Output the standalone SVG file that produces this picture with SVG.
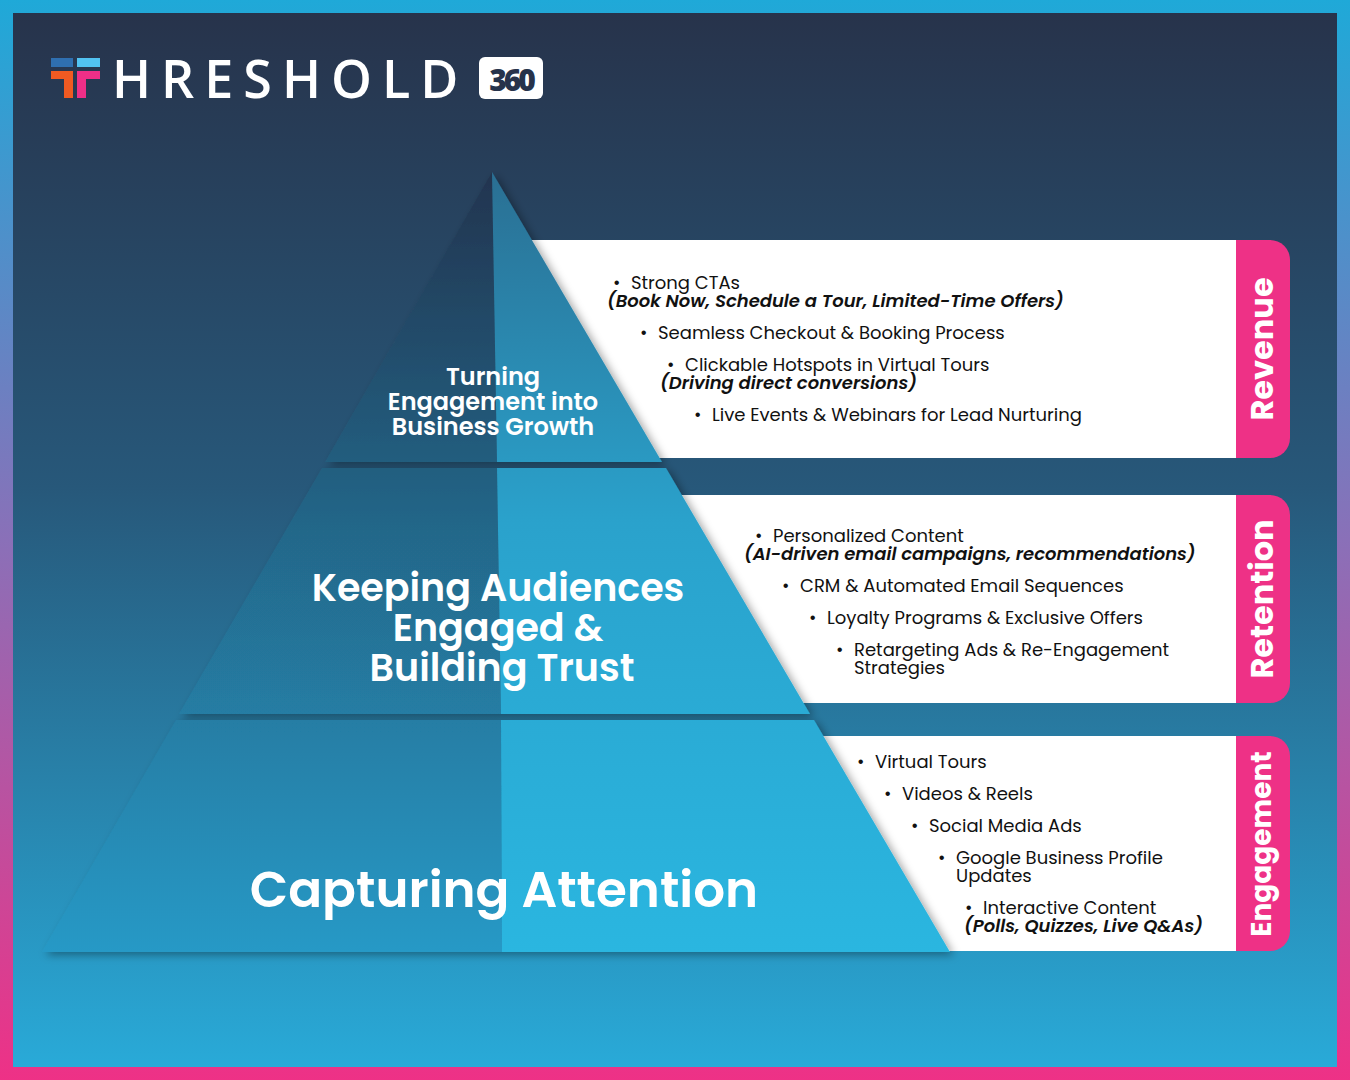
<svg xmlns="http://www.w3.org/2000/svg" width="1350" height="1080" viewBox="0 0 1350 1080">
<defs>
<linearGradient id="border" x1="0" y1="0" x2="0" y2="1"><stop offset="0" stop-color="#1fa9d8"/><stop offset="0.5" stop-color="#8a70b8"/><stop offset="1" stop-color="#ee3186"/></linearGradient>
<linearGradient id="bg" x1="0" y1="0" x2="0" y2="1"><stop offset="0" stop-color="#27334b"/><stop offset="0.45" stop-color="#27587a"/><stop offset="1" stop-color="#29aad8"/></linearGradient>
<linearGradient id="pr" gradientUnits="userSpaceOnUse" x1="0" y1="172" x2="0" y2="952"><stop offset="0" stop-color="#2a6f93"/><stop offset="0.45" stop-color="#2aa2cc"/><stop offset="1" stop-color="#29b6e0"/></linearGradient>
<linearGradient id="pl" gradientUnits="userSpaceOnUse" x1="0" y1="172" x2="0" y2="952"><stop offset="0" stop-color="#24344f"/><stop offset="0.45" stop-color="#246688"/><stop offset="1" stop-color="#2699c6"/></linearGradient>
<filter id="sh" x="-10%" y="-10%" width="130%" height="130%"><feDropShadow dx="4" dy="3" stdDeviation="4" flood-color="#000" flood-opacity="0.35"/></filter>
<style>
.b{font-family:Poppins,"Open Sans","Liberation Sans",sans-serif;font-size:18px;fill:#111}
.i{font-style:italic;font-weight:600}
.t{font-family:Poppins,"Open Sans","Liberation Sans",sans-serif;font-weight:600;fill:#fff;text-anchor:middle}
.tab{fill:#ee3186}
.lab{font-family:Poppins,"Open Sans","Liberation Sans",sans-serif;font-weight:700;font-size:32px;fill:#fff;text-anchor:middle}
</style>
</defs>
<rect width="1350" height="1080" fill="url(#border)"/>
<rect x="13" y="13" width="1324" height="1054" fill="url(#bg)"/>
<g id="logo">
<rect x="51" y="58" width="22" height="9" fill="#2f6fb0"/><rect x="77" y="58" width="23" height="9" fill="#52c3f2"/>
<path d="M51 71h22v27h-9v-19h-13z" fill="#f05a22"/><path d="M77 71h23v8h-14v19h-9z" fill="#ee2f87"/>
<text x="112" y="98" font-family="'Open Sans','Liberation Sans',sans-serif" font-size="52" font-weight="600" fill="#fff" letter-spacing="10">HRESHOLD</text>
<rect x="479" y="57" width="64" height="42" rx="6" fill="#fff"/>
<text x="511" y="91" font-family="'Open Sans','Liberation Sans',sans-serif" font-size="30" font-weight="800" fill="#27334b" text-anchor="middle" letter-spacing="-3">360</text>
</g>
<g id="panels">
<rect x="520" y="240" width="730" height="218" fill="#fff"/>
<rect x="660" y="495" width="590" height="208" fill="#fff"/>
<rect x="800" y="736" width="450" height="215" fill="#fff"/>
<path class="tab" d="M1236 240h34a20 20 0 0 1 20 20v178a20 20 0 0 1-20 20h-34z"/>
<path class="tab" d="M1236 495h34a20 20 0 0 1 20 20v168a20 20 0 0 1-20 20h-34z"/>
<path class="tab" d="M1236 736h34a20 20 0 0 1 20 20v175a20 20 0 0 1-20 20h-34z"/>
<text class="lab" transform="translate(1273 349) rotate(-90)">Revenue</text>
<text class="lab" transform="translate(1273 599) rotate(-90)">Retention</text>
<text class="lab" font-size="28" style="font-size:28px" transform="translate(1271 844) rotate(-90)">Engagement</text>
</g>
<g id="pyramid" filter="url(#sh)">
<g id="tier-top"><path d="M492 172L325 462H497z" fill="url(#pl)"/><path d="M492 172L497 462H662z" fill="url(#pr)"/></g>
<g id="tier-mid"><path d="M322 468L179 714H501L497 468z" fill="url(#pl)"/><path d="M497 468L501 714H810L666 468z" fill="url(#pr)"/></g>
<g id="tier-bot"><path d="M176 720L42 952H502L501 720z" fill="url(#pl)"/><path d="M501 720L502 952H950L814 720z" fill="url(#pr)"/></g>
</g>
<g id="tier-labels">
<text class="t" font-size="24"><tspan x="493" y="385">Turning</tspan><tspan x="493" y="410">Engagement into</tspan><tspan x="493" y="435">Business Growth</tspan></text>
<text class="t" font-size="38"><tspan x="498" y="601">Keeping Audiences</tspan><tspan x="498" y="641">Engaged &amp;</tspan><tspan x="502" y="681">Building Trust</tspan></text>
<text class="t" font-size="50" x="504" y="907">Capturing Attention</text>
</g>
<g id="bullets">
<text class="b"><tspan x="613" y="289">•</tspan><tspan x="631" y="289">Strong CTAs</tspan><tspan x="607" y="307" class="i">(Book Now, Schedule a Tour, Limited-Time Offers)</tspan>
<tspan x="640" y="339">•</tspan><tspan x="658" y="339">Seamless Checkout &amp; Booking Process</tspan>
<tspan x="667" y="371">•</tspan><tspan x="685" y="371">Clickable Hotspots in Virtual Tours</tspan><tspan x="660" y="389" class="i">(Driving direct conversions)</tspan>
<tspan x="694" y="421">•</tspan><tspan x="712" y="421">Live Events &amp; Webinars for Lead Nurturing</tspan></text>
<text class="b"><tspan x="755" y="542">•</tspan><tspan x="773" y="542">Personalized Content</tspan><tspan x="744" y="560" class="i">(AI-driven email campaigns, recommendations)</tspan>
<tspan x="782" y="592">•</tspan><tspan x="800" y="592">CRM &amp; Automated Email Sequences</tspan>
<tspan x="809" y="624">•</tspan><tspan x="827" y="624">Loyalty Programs &amp; Exclusive Offers</tspan>
<tspan x="836" y="656">•</tspan><tspan x="854" y="656">Retargeting Ads &amp; Re-Engagement</tspan><tspan x="854" y="674">Strategies</tspan></text>
<text class="b"><tspan x="857" y="768">•</tspan><tspan x="875" y="768">Virtual Tours</tspan>
<tspan x="884" y="800">•</tspan><tspan x="902" y="800">Videos &amp; Reels</tspan>
<tspan x="911" y="832">•</tspan><tspan x="929" y="832">Social Media Ads</tspan>
<tspan x="938" y="864">•</tspan><tspan x="956" y="864">Google Business Profile</tspan><tspan x="956" y="882">Updates</tspan>
<tspan x="965" y="914">•</tspan><tspan x="983" y="914">Interactive Content</tspan><tspan x="964" y="932" class="i">(Polls, Quizzes, Live Q&amp;As)</tspan></text>
</g>
</svg>
